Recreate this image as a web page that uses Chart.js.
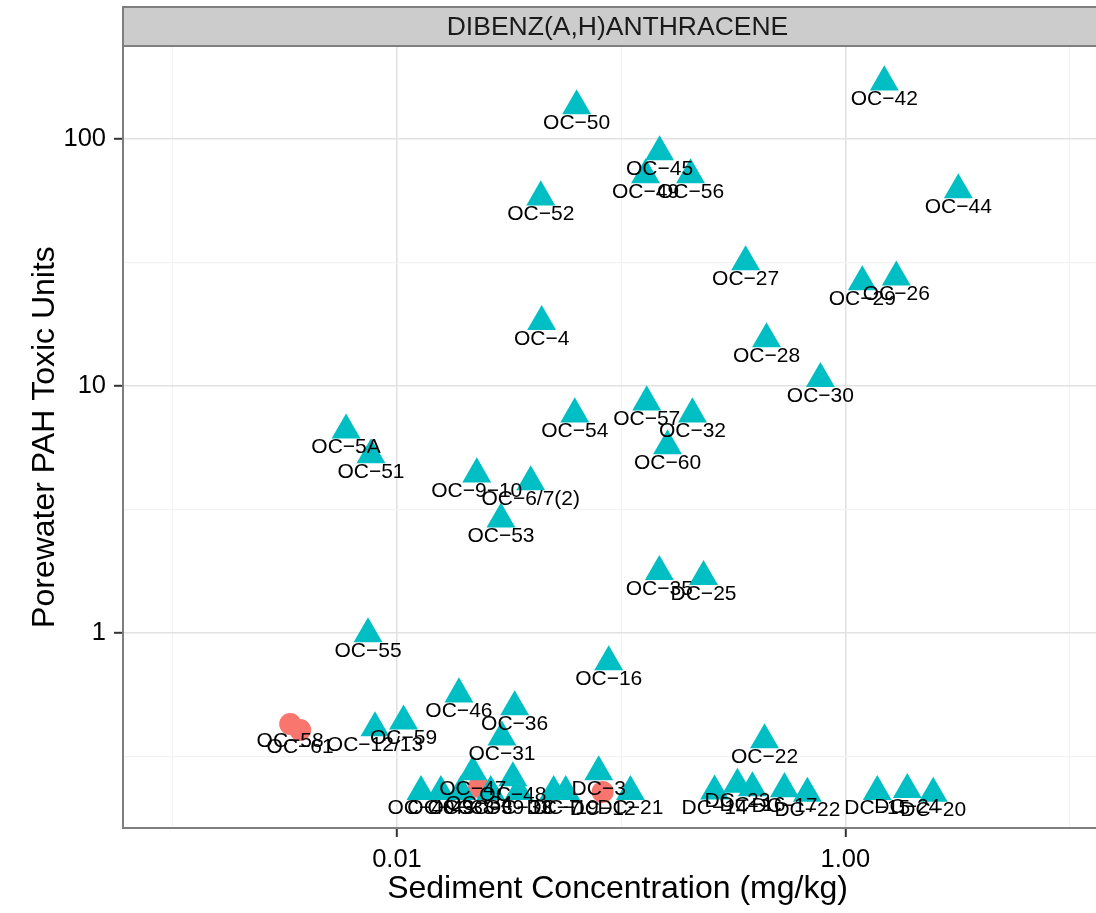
<!DOCTYPE html>
<html><head><meta charset="utf-8">
<script src="https://cdn.jsdelivr.net/npm/chart.js@4.4.1/dist/chart.umd.min.js"></script>
<style>
html,body{margin:0;padding:0;overflow:hidden;background:#fff;width:1096px;height:913px}
#wrap{width:1096px;height:913px;position:relative}
</style></head>
<body><div id="wrap"><canvas id="c" width="1096" height="913"></canvas></div>
<script>
const panelTitle = 'DIBENZ(A,H)ANTHRACENE';
const xTitle = 'Sediment Concentration (mg/kg)';
const yTitle = 'Porewater PAH Toxic Units';
const xMajorTicks = [0.01, 1];
const xTickLabels = ['0.01', '1.00'];
const xMinorGrid = [0.001, 0.1, 10];
const yMajorTicks = [1, 10, 100];
const yTickLabels = ['1', '10', '100'];
const yMinorGrid = [0.3162, 3.162, 31.62];
const xRange = [0.000627, 13.12];
const yRange = [0.1624, 237.9];

const tealLabels = ['OC-42','OC-50','OC-45','OC-49','OC-56','OC-52','OC-44','OC-27','OC-29','OC-26',
  'OC-4','OC-28','OC-30','OC-57','OC-54','OC-32','OC-60','OC-5A','OC-51','OC-9-10',
  'OC-6/7(2)','OC-53','OC-35','DC-25','OC-55','OC-16','OC-46','OC-36','OC-59','OC-12/13',
  'OC-31','OC-22','OC-47','OC-48','DC-3','OC-40','OC-43','OC-38','OC-39','OC-33',
  'DC-7','DC-19','DC-21','DC-14','DC-23','DC-16','DC-17','DC-22','DC-15','DC-24','DC-20'];
const tealX = [1.492,0.0633,0.1484,0.1285,0.204,0.0438,3.19,0.359,1.19,1.687,
  0.0442,0.445,0.774,0.130,0.0621,0.208,0.161,0.00593,0.00766,0.0227,
  0.0395,0.0291,0.148,0.233,0.00743,0.0880,0.0189,0.0335,0.0107,0.00798,
  0.0294,0.436,0.0218,0.0329,0.0794,0.0128,0.0157,0.0193,0.0262,0.0349,
  0.0500,0.0566,0.110,0.261,0.330,0.385,0.535,0.677,1.388,1.889,2.466];
const tealY = [170,136,88.6,71.5,71.5,58.2,62.2,31.8,26.4,27.6,
  18.2,15.5,10.7,8.61,7.70,7.70,5.72,6.63,5.26,4.40,
  4.09,2.89,1.77,1.69,0.991,0.763,0.566,0.502,0.440,0.413,
  0.379,0.369,0.274,0.259,0.274,0.228,0.228,0.228,0.228,0.228,
  0.228,0.228,0.228,0.229,0.244,0.236,0.234,0.224,0.228,0.232,0.224];

const redLabels = ['OC-58','OC-61','OC-34','DC-12'];
const redX = [0.00334,0.00370,0.0232,0.0827];
const redY = [0.428,0.405,0.238,0.227];

const labelsByDataset = [tealLabels, redLabels];
const FONT = '"Liberation Sans", Arial, Helvetica, sans-serif';
const PANEL_CENTER_SHIFT = 8; // the original panel continues past the right edge of the picture

function toPoints(xs, ys){ return xs.map((x,i)=>({x:x, y:ys[i]})); }

const stripPlugin = {
  id:'strip',
  afterDraw(chart){
    const ctx = chart.ctx, a = chart.chartArea;
    ctx.save();
    const top = 7, h = a.top - top;
    ctx.fillStyle = '#cccccc';
    ctx.fillRect(a.left, top, a.right - a.left + 20, h);
    ctx.strokeStyle = '#7f7f7f';
    ctx.lineWidth = 2;
    ctx.strokeRect(a.left, top, a.right - a.left + 20, h);
    ctx.fillStyle = '#1a1a1a';
    ctx.font = '26.5px ' + FONT;
    ctx.textAlign = 'center';
    ctx.textBaseline = 'middle';
    ctx.fillText(panelTitle, (a.left + a.right)/2 + PANEL_CENTER_SHIFT, top + h/2 + 1);
    ctx.restore();
  }
};

const labelPlugin = {
  id:'pointLabels',
  afterDatasetsDraw(chart){
    const ctx = chart.ctx;
    ctx.save();
    ctx.font = '21px ' + FONT;
    ctx.fillStyle = '#000000';
    ctx.textAlign = 'center';
    ctx.textBaseline = 'middle';
    chart.data.datasets.forEach((ds, di) => {
      const meta = chart.getDatasetMeta(di);
      const labs = labelsByDataset[di];
      meta.data.forEach((pt, i) => {
        ctx.fillText(labs[i].replace(/-/g, '\u2212'), pt.x, pt.y + 17);
      });
    });
    ctx.restore();
  }
};

function isMajor(list, c){ return !!(c.tick && list.some(v => Math.abs(v - c.tick.value) / v < 1e-6)); }

function shiftTitle(s){
  if (s._titleShifted) return;
  s._titleShifted = true;
  const orig = s.drawTitle;
  s.drawTitle = function(){
    this.ctx.save();
    this.ctx.translate(PANEL_CENTER_SHIFT, 0);
    orig.call(this);
    this.ctx.restore();
  };
}

new Chart(document.getElementById('c'), {
  type: 'scatter',
  data: {
    datasets: [
      {label:'Teal', data: toPoints(tealX, tealY), pointStyle:'triangle', pointRadius:16.7, pointHoverRadius:16.7,
       backgroundColor:'#00BFC4', borderWidth:0, pointBorderWidth:0},
      {label:'Red', data: toPoints(redX, redY), pointStyle:'circle', pointRadius:11, pointHoverRadius:11,
       backgroundColor:'#F8766D', borderWidth:0, pointBorderWidth:0}
    ]
  },
  options: {
    responsive:false, animation:false, devicePixelRatio:1,
    layout:{autoPadding:false, padding:{top:46, left:0, right:0, bottom:0}},
    plugins:{legend:{display:false}, tooltip:{enabled:false}},
    scales:{
      x:{
        type:'logarithmic', position:'bottom', min:xRange[0], max:xRange[1],
        afterBuildTicks: s => { s.ticks = [...xMinorGrid, ...xMajorTicks].sort((a,b)=>a-b).map(v=>({value:v})); },
        afterFit: s => { s.height = 85; s.paddingLeft = 0; s.paddingRight = 0; shiftTitle(s); },
        ticks:{autoSkip:false, maxRotation:0, minRotation:0, padding:8, color:'#000',
          font:{family:FONT, size:25.5},
          callback: v => { const i = xMajorTicks.findIndex(m => Math.abs(m - v)/m < 1e-6); return i >= 0 ? xTickLabels[i] : ''; }},
        grid:{
          color: c => isMajor(xMajorTicks, c) ? '#e2e2e2' : '#f3f3f3',
          lineWidth: c => isMajor(xMajorTicks, c) ? 1.6 : 1.2,
          tickColor: c => isMajor(xMajorTicks, c) ? '#333333' : 'rgba(0,0,0,0)',
          tickLength:9, tickWidth:2
        },
        border:{display:true, color:'#7f7f7f', width:2},
        title:{display:true, text:xTitle, color:'#000', font:{family:FONT, size:32, lineHeight:1.2}, padding:{top:0, bottom:5}}
      },
      y:{
        type:'logarithmic', position:'left', min:yRange[0], max:yRange[1],
        afterBuildTicks: s => { s.ticks = [...yMinorGrid, ...yMajorTicks].sort((a,b)=>a-b).map(v=>({value:v})); },
        afterFit: s => { s.width = 123; s.paddingTop = 0; s.paddingBottom = 0; },
        ticks:{autoSkip:false, padding:8, color:'#000',
          font:{family:FONT, size:25.5},
          callback: v => { const i = yMajorTicks.findIndex(m => Math.abs(m - v)/m < 1e-6); return i >= 0 ? yTickLabels[i] : ''; }},
        grid:{
          color: c => isMajor(yMajorTicks, c) ? '#e2e2e2' : '#f3f3f3',
          lineWidth: c => isMajor(yMajorTicks, c) ? 1.6 : 1.2,
          tickColor: c => isMajor(yMajorTicks, c) ? '#333333' : 'rgba(0,0,0,0)',
          tickLength:9, tickWidth:2
        },
        border:{display:true, color:'#7f7f7f', width:2},
        title:{display:true, text:yTitle, color:'#000', font:{family:FONT, size:32, lineHeight:1.2}, padding:{top:26, bottom:0}}
      }
    }
  },
  plugins:[labelPlugin, stripPlugin]
});
</script>
</body></html>
